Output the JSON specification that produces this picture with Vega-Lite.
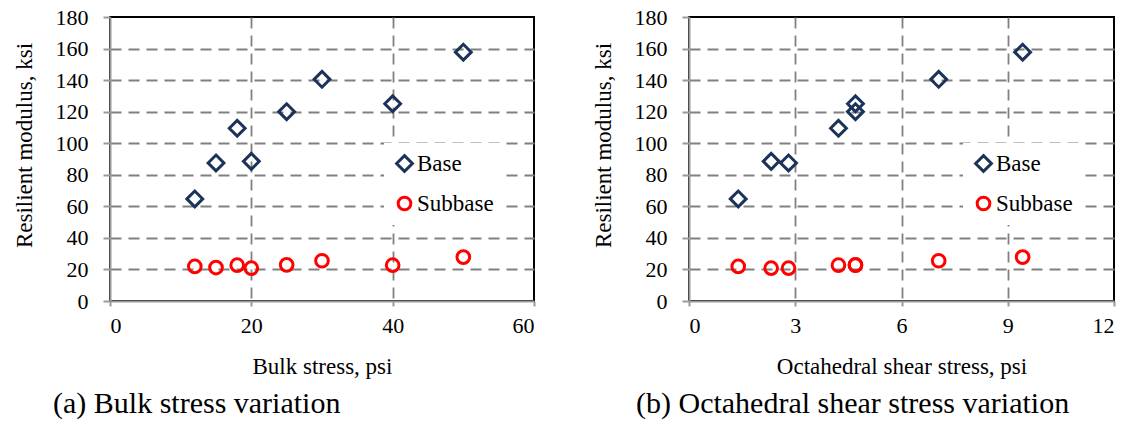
{
  "$schema": "https://vega.github.io/schema/vega-lite/v6.json",
  "padding": {"left": 12, "top": 5, "right": 0, "bottom": 5},
  "background": "white",
  "datasets": {
    "bulk": [
      {"stress": 12, "mr": 64.7, "layer": "Base"},
      {"stress": 15, "mr": 87.5, "layer": "Base"},
      {"stress": 18, "mr": 109.5, "layer": "Base"},
      {"stress": 20, "mr": 88.5, "layer": "Base"},
      {"stress": 25, "mr": 120, "layer": "Base"},
      {"stress": 30, "mr": 140.5, "layer": "Base"},
      {"stress": 40, "mr": 125, "layer": "Base"},
      {"stress": 50, "mr": 157.7, "layer": "Base"},
      {"stress": 12, "mr": 21.9, "layer": "Subbase"},
      {"stress": 15, "mr": 21.2, "layer": "Subbase"},
      {"stress": 18, "mr": 22.7, "layer": "Subbase"},
      {"stress": 20, "mr": 20.8, "layer": "Subbase"},
      {"stress": 25, "mr": 22.9, "layer": "Subbase"},
      {"stress": 30, "mr": 25.5, "layer": "Subbase"},
      {"stress": 40, "mr": 22.7, "layer": "Subbase"},
      {"stress": 50, "mr": 27.8, "layer": "Subbase"}
    ],
    "oct": [
      {"stress": 1.39, "mr": 64.7, "layer": "Base"},
      {"stress": 2.81, "mr": 87.5, "layer": "Base"},
      {"stress": 4.22, "mr": 109.5, "layer": "Base"},
      {"stress": 2.32, "mr": 88.5, "layer": "Base"},
      {"stress": 4.70, "mr": 120, "layer": "Base"},
      {"stress": 7.05, "mr": 140.5, "layer": "Base"},
      {"stress": 4.70, "mr": 125, "layer": "Base"},
      {"stress": 9.42, "mr": 157.7, "layer": "Base"},
      {"stress": 1.39, "mr": 21.9, "layer": "Subbase"},
      {"stress": 2.81, "mr": 20.8, "layer": "Subbase"},
      {"stress": 4.22, "mr": 22.7, "layer": "Subbase"},
      {"stress": 2.32, "mr": 20.8, "layer": "Subbase"},
      {"stress": 4.70, "mr": 22.9, "layer": "Subbase"},
      {"stress": 7.05, "mr": 25.5, "layer": "Subbase"},
      {"stress": 4.70, "mr": 22.7, "layer": "Subbase"},
      {"stress": 9.42, "mr": 27.8, "layer": "Subbase"}
    ]
  },
  "spacing": 55,
  "hconcat": [
    {
      "width": 424,
      "height": 284,
      "data": {"name": "bulk"},
      "title": {"text": "(a) Bulk stress variation", "orient": "bottom", "anchor": "start", "frame": "group", "dx": -57, "offset": 11, "font": "Liberation Serif", "fontSize": 30, "fontWeight": "normal", "color": "black"},
      "mark": {"type": "point", "filled": false, "strokeWidth": 3, "opacity": 1},
      "encoding": {
        "x": {"field": "stress", "type": "quantitative", "scale": {"domain": [0, 60], "nice": false},
          "axis": {"values": [0, 20, 40, 60], "title": "Bulk stress, psi", "labelFont": "Liberation Serif", "titleFont": "Liberation Serif", "labelFontSize": 22, "titleFontSize": 23, "titleFontWeight": "normal", "labelColor": "black", "titleColor": "black",
            "tickSize": 5, "labelPadding": 9, "titlePadding": 19, "domainColor": "#9a9a9a", "domainWidth": 2, "tickColor": "#9a9a9a", "tickWidth": 2,
            "grid": true, "gridColor": "#808080", "gridDash": [11, 7], "gridWidth": 1.8,
            "gridOpacity": {"condition": {"test": "datum.value === 0 || datum.value === 60", "value": 0}, "value": 1}}},
        "y": {"field": "mr", "type": "quantitative", "scale": {"domain": [0, 180], "nice": false},
          "axis": {"values": [0, 20, 40, 60, 80, 100, 120, 140, 160, 180], "title": "Resilient modulus, ksi", "titleY": 128, "labelFont": "Liberation Serif", "titleFont": "Liberation Serif", "labelFontSize": 22, "titleFontSize": 23, "titleFontWeight": "normal", "labelColor": "black", "titleColor": "black",
            "tickSize": 7, "labelPadding": 15, "titlePadding": 19, "domainColor": "#9a9a9a", "domainWidth": 2, "tickColor": "#9a9a9a", "tickWidth": 2,
            "grid": true, "gridColor": "#808080", "gridDash": [11, 7], "gridWidth": 1.8,
            "gridOpacity": {"condition": {"test": "datum.value === 0 || datum.value === 180", "value": 0}, "value": 1}}},
        "color": {"field": "layer", "type": "nominal", "scale": {"domain": ["Base", "Subbase"], "range": ["#1B3358", "#FF0000"]}, "legend": {"title": null, "labelFont": "Liberation Serif", "labelFontSize": 23}},
        "shape": {"field": "layer", "type": "nominal", "scale": {"domain": ["Base", "Subbase"], "range": ["diamond", "circle"]}, "legend": {"title": null, "labelFont": "Liberation Serif", "labelFontSize": 23}},
        "size": {"field": "layer", "type": "nominal", "scale": {"domain": ["Base", "Subbase"], "range": [250, 160]}, "legend": null}
      }
    },
    {
      "width": 425,
      "height": 284,
      "data": {"name": "oct"},
      "title": {"text": "(b) Octahedral shear stress variation", "orient": "bottom", "anchor": "start", "frame": "group", "dx": -53, "offset": 11, "font": "Liberation Serif", "fontSize": 30, "fontWeight": "normal", "color": "black"},
      "mark": {"type": "point", "filled": false, "strokeWidth": 3, "opacity": 1},
      "encoding": {
        "x": {"field": "stress", "type": "quantitative", "scale": {"domain": [0, 12], "nice": false},
          "axis": {"values": [0, 3, 6, 9, 12], "title": "Octahedral shear stress, psi", "labelFont": "Liberation Serif", "titleFont": "Liberation Serif", "labelFontSize": 22, "titleFontSize": 23, "titleFontWeight": "normal", "labelColor": "black", "titleColor": "black",
            "tickSize": 5, "labelPadding": 9, "titlePadding": 19, "domainColor": "#9a9a9a", "domainWidth": 2, "tickColor": "#9a9a9a", "tickWidth": 2,
            "grid": true, "gridColor": "#808080", "gridDash": [11, 7], "gridWidth": 1.8,
            "gridOpacity": {"condition": {"test": "datum.value === 0 || datum.value === 12", "value": 0}, "value": 1}}},
        "y": {"field": "mr", "type": "quantitative", "scale": {"domain": [0, 180], "nice": false},
          "axis": {"values": [0, 20, 40, 60, 80, 100, 120, 140, 160, 180], "title": "Resilient modulus, ksi", "titleY": 128, "labelFont": "Liberation Serif", "titleFont": "Liberation Serif", "labelFontSize": 22, "titleFontSize": 23, "titleFontWeight": "normal", "labelColor": "black", "titleColor": "black",
            "tickSize": 7, "labelPadding": 15, "titlePadding": 19, "domainColor": "#9a9a9a", "domainWidth": 2, "tickColor": "#9a9a9a", "tickWidth": 2,
            "grid": true, "gridColor": "#808080", "gridDash": [11, 7], "gridWidth": 1.8,
            "gridOpacity": {"condition": {"test": "datum.value === 0 || datum.value === 180", "value": 0}, "value": 1}}},
        "color": {"field": "layer", "type": "nominal", "scale": {"domain": ["Base", "Subbase"], "range": ["#1B3358", "#FF0000"]}, "legend": {"title": null, "labelFont": "Liberation Serif", "labelFontSize": 23}},
        "shape": {"field": "layer", "type": "nominal", "scale": {"domain": ["Base", "Subbase"], "range": ["diamond", "circle"]}, "legend": {"title": null, "labelFont": "Liberation Serif", "labelFontSize": 23}},
        "size": {"field": "layer", "type": "nominal", "scale": {"domain": ["Base", "Subbase"], "range": [250, 160]}, "legend": null}
      }
    }
  ],
  "resolve": {"scale": {"color": "independent", "shape": "independent", "size": "independent"}, "legend": {"color": "independent", "shape": "independent"}},
  "config": {
    "font": "Liberation Serif",
    "view": {"stroke": "black", "strokeWidth": 2},
    "legend": {
      "orient": "none",
      "legendX": 274,
      "legendY": 126,
      "fillColor": "white",
      "padding": 9,
      "labelColor": "black",
      "symbolStrokeWidth": 3,
      "symbolSize": 130,
      "rowPadding": 13,
      "labelOffset": 1
    }
  }
}
